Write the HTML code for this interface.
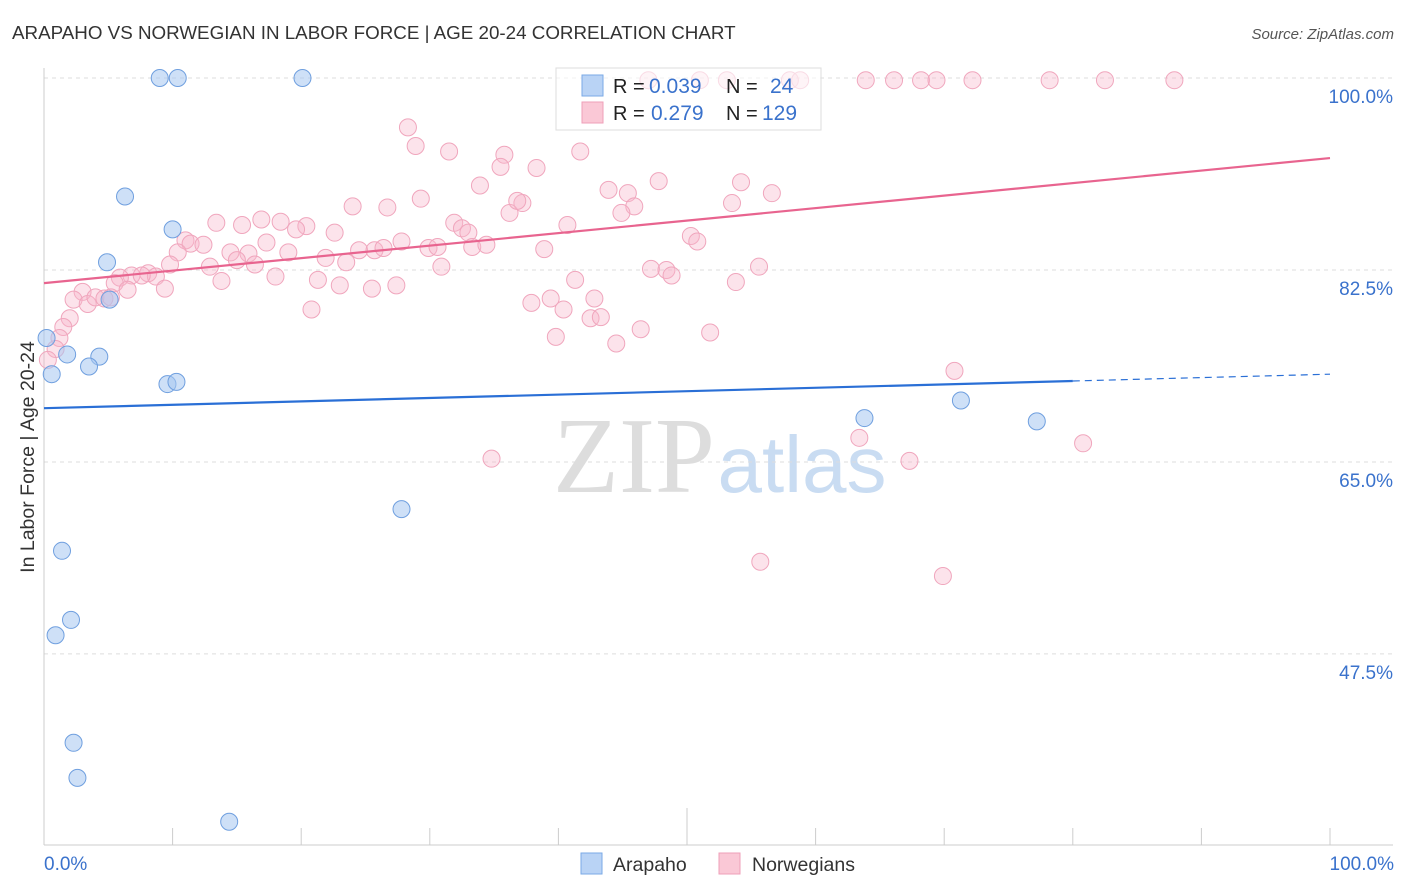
<!DOCTYPE html>
<html><head><meta charset="utf-8"><style>
body{margin:0;background:#fff;font-family:"Liberation Sans",sans-serif}
svg{display:block}
</style></head><body>
<svg id="chart" width="1406" height="892" xmlns="http://www.w3.org/2000/svg" font-family="Liberation Sans, sans-serif">
<text x="12" y="39" font-size="18.8" fill="#333">ARAPAHO VS NORWEGIAN IN LABOR FORCE | AGE 20-24 CORRELATION CHART</text>
<text x="1394" y="39" font-size="15" fill="#555" font-style="italic" text-anchor="end">Source: ZipAtlas.com</text>
<text transform="translate(34,457) rotate(-90)" font-size="19.5" fill="#333" text-anchor="middle">In Labor Force | Age 20-24</text>
<g text-anchor="middle">
<text x="634" y="492" fill="#ddd" font-size="108" font-family="Liberation Serif, serif">ZIP</text>
<text x="802" y="492" fill="#c9dcf2" font-size="80">atlas</text>
</g>
<g id="grid"></g>
<g id="axes"></g>
<g id="pts"></g>
<g id="lines"></g>
<g>
<rect x="556" y="68" width="265" height="62" fill="rgba(255,255,255,0.6)" stroke="#ddd"/>
<rect x="582" y="75" width="21" height="21" fill="#b9d3f5" stroke="#7aa9e6"/>
<rect x="582" y="102" width="21" height="21" fill="#fac8d6" stroke="#ef9fb8"/>
<text x="613" y="93" font-size="20" fill="#222">R =</text>
<text x="649" y="93" font-size="21" fill="#3a72cc">0.039</text>
<text x="726" y="93" font-size="20" fill="#222">N =</text>
<text x="770" y="93" font-size="21" fill="#3a72cc">24</text>
<text x="613" y="120" font-size="20" fill="#222">R =</text>
<text x="651" y="120" font-size="21" fill="#3a72cc">0.279</text>
<text x="726" y="120" font-size="20" fill="#222">N =</text>
<text x="762" y="120" font-size="21" fill="#3a72cc">129</text>
</g>
<g>
<rect x="581" y="853" width="21" height="21" fill="#b9d3f5" stroke="#7aa9e6"/>
<text x="613" y="871" font-size="19.5" fill="#333">Arapaho</text>
<rect x="719" y="853" width="21" height="21" fill="#fac8d6" stroke="#ef9fb8"/>
<text x="752" y="871" font-size="19.5" fill="#333">Norwegians</text>
</g>
</svg>
<script>
const yTicks=[100,82.5,65,47.5];
const yTickLabels=["100.0%","82.5%","65.0%","47.5%"];
const xTickLabels=["0.0%","100.0%"];
const blueX=[9.0,10.4,20.1,6.3,10.0,4.9,5.1,0.2,1.8,4.3,3.5,0.6,9.6,10.3,63.8,71.3,77.2,27.8,1.4,2.1,0.9,2.3,2.6,14.4];
const blueY=[100,100,100,89.2,86.2,83.2,79.8,76.3,74.8,74.6,73.7,73.0,72.1,72.3,69.0,70.6,68.7,60.7,56.9,50.6,49.2,39.4,36.2,32.2];
const pinkX=[47.0,51.0,53.1,58.0,58.8,63.9,66.1,68.2,69.4,72.2,78.2,82.5,87.9,
28.3,28.9,31.5,41.7,35.8,35.5,38.3,33.9,47.8,54.2,56.6,43.9,45.4,45.9,44.9,53.5,29.3,24.0,26.7,36.2,37.2,36.8,
13.4,15.4,16.9,18.4,20.4,19.6,22.6,31.9,32.5,33.0,40.7,11.0,11.4,12.4,10.4,14.5,15.9,17.3,19.0,21.9,23.5,24.5,25.7,26.4,27.8,29.9,30.6,33.3,34.4,38.9,50.3,50.8,
9.8,12.9,15.0,16.4,8.1,8.7,6.8,5.9,7.6,5.5,6.5,9.4,13.8,18.0,21.3,23.0,25.5,27.4,30.9,41.3,47.2,48.4,48.8,55.6,53.8,
3.0,2.3,3.4,4.0,4.7,5.2,20.8,37.9,39.4,40.4,42.8,42.5,43.3,2.0,1.5,1.2,0.9,0.3,46.4,44.5,51.8,39.8,70.8,63.4,80.8,34.8,67.3,55.7,69.9];
const pinkY=[99.8,99.8,99.8,99.8,99.8,99.8,99.8,99.8,99.8,99.8,99.8,99.8,99.8,
95.5,93.8,93.3,93.3,93.0,91.9,91.8,90.2,90.6,90.5,89.5,89.8,89.5,88.3,87.7,88.6,89.0,88.3,88.2,87.7,88.6,88.8,
86.8,86.6,87.1,86.9,86.5,86.2,85.9,86.8,86.3,85.9,86.6,85.2,84.9,84.8,84.1,84.1,84.0,85.0,84.1,83.6,83.2,84.3,84.3,84.5,85.1,84.5,84.6,84.6,84.8,84.4,85.6,85.1,
83.0,82.8,83.4,83.0,82.2,81.9,82.0,81.8,82.0,81.3,80.7,80.8,81.5,81.9,81.6,81.1,80.8,81.1,82.8,81.6,82.6,82.5,82.0,82.8,81.4,
80.5,79.8,79.4,80.0,79.9,80.0,78.9,79.5,79.9,78.9,79.9,78.1,78.2,78.1,77.3,76.3,75.3,74.3,77.1,75.8,76.8,76.4,73.3,67.2,66.7,65.3,65.1,55.9,54.6];
const blueFit=[69.9,73.0];
const pinkFit=[81.3,92.7];
const sx=v=>44+v*12.86, sy=v=>78+(100-v)*10.97;
const NS="http://www.w3.org/2000/svg";
function mk(p,t,a){const e=document.createElementNS(NS,t);for(const k in a)e.setAttribute(k,a[k]);document.getElementById(p).appendChild(e);return e;}
yTicks.forEach((v,i)=>{
 const l=mk('grid','line',{x1:44,x2:1393,y1:sy(v),y2:sy(v),stroke:'#ddd','stroke-dasharray':'4,4'});
 
 
 const t=mk('grid','text',{x:1393,y:sy(v)+25,'font-size':19,fill:'#3a72cc','text-anchor':'end'});
 t.textContent=yTickLabels[i];
 
 
});
mk('axes','line',{x1:44,x2:44,y1:68,y2:845,stroke:'#ccc'});
mk('axes','line',{x1:44,x2:1393,y1:845,y2:845,stroke:'#ccc'});
for(let i=0;i<=10;i++){mk('axes','line',{x1:sx(i*10),x2:sx(i*10),y1:i==5?808:828,y2:845,stroke:'#ccc'});}
[[0,'start',44],[100,'end',1394]].forEach((d,i)=>{const t=mk('axes','text',{x:d[2],y:870,'font-size':19,fill:'#3a72cc','text-anchor':d[1]});t.textContent=xTickLabels[i];

});
pinkX.forEach((x,i)=>{const c=mk('pts','circle',{cx:sx(x),cy:sy(pinkY[i]),r:8.5,fill:'rgba(248,182,202,0.38)',stroke:'#f0a6bd','stroke-width':1});

});
blueX.forEach((x,i)=>{const c=mk('pts','circle',{cx:sx(x),cy:sy(blueY[i]),r:8.5,fill:'rgba(165,198,240,0.55)',stroke:'#6f9fdf','stroke-width':1});

});
const by=x=>blueFit[0]+(blueFit[1]-blueFit[0])*x/100;
const b1=mk('lines','line',{x1:sx(0),y1:sy(by(0)),x2:sx(80),y2:sy(by(80)),stroke:'#2a6fd6','stroke-width':2.2});


const b2=mk('lines','line',{x1:sx(80),y1:sy(by(80)),x2:sx(100),y2:sy(by(100)),stroke:'#2a6fd6','stroke-width':1.2,'stroke-dasharray':'7,5'});


const p1=mk('lines','line',{x1:sx(0),y1:sy(pinkFit[0]),x2:sx(100),y2:sy(pinkFit[1]),stroke:'#e8648f','stroke-width':2.2});


</script>
</body></html>
